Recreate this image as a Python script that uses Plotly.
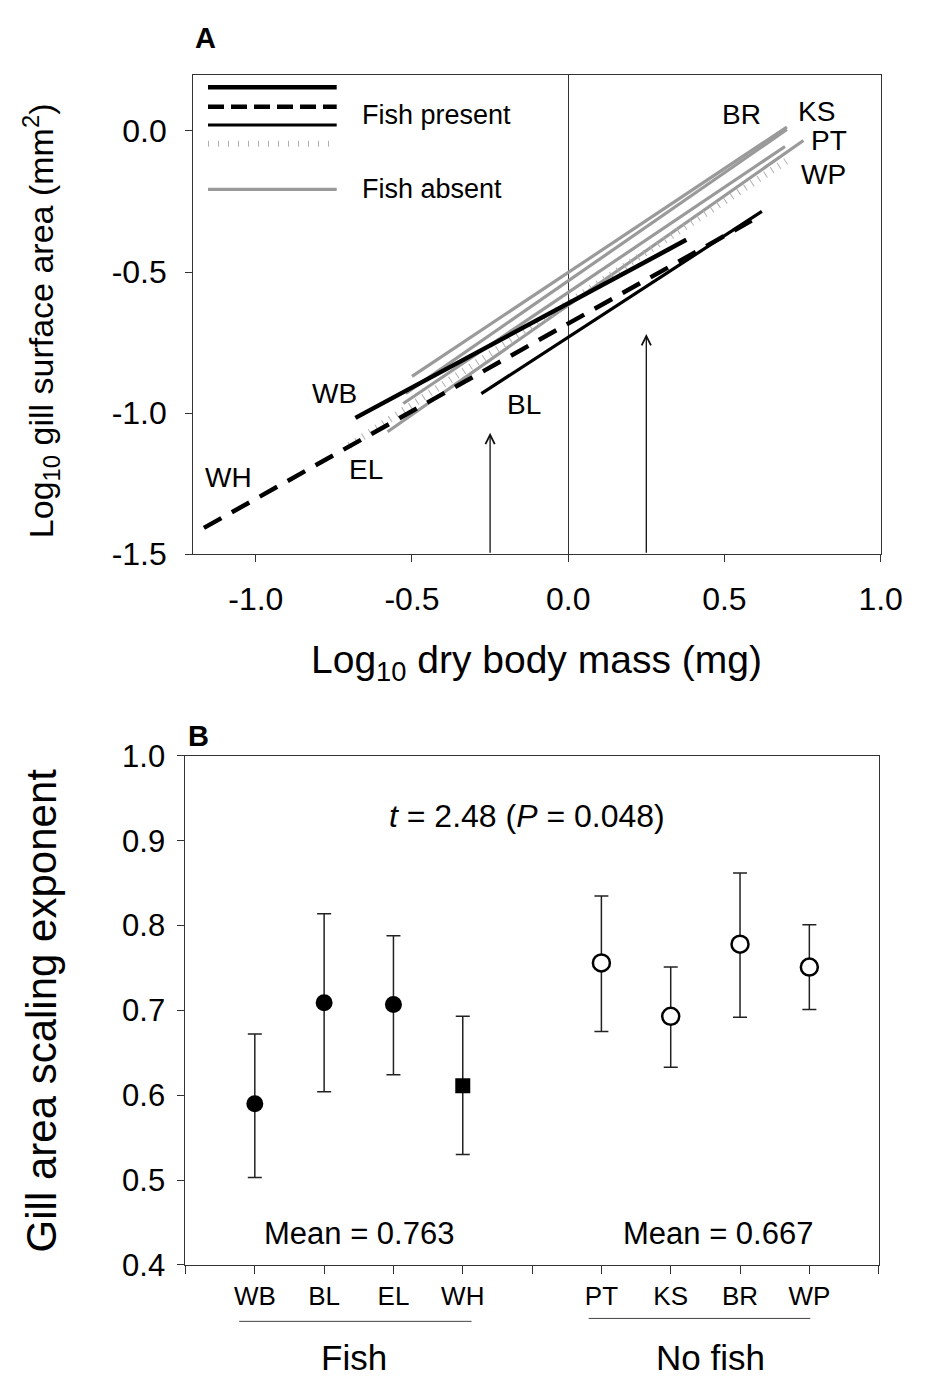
import plotly.graph_objects as go

# ---------------- Panel A data (regression lines) ----------------
pops_A = ["WB", "BL", "EL", "WH", "PT", "KS", "BR", "WP"]
x_start = [-0.681, -0.278, -0.700, -1.166, -0.578, -0.500, -0.520, -0.528]
x_end = [0.378, 0.620, 0.697, 0.600, 0.753, 0.700, 0.700, 0.694]
y_start = [-1.017, -0.931, -1.115, -1.407, -1.066, -0.870, -0.930, -0.966]
y_end = [-0.386, -0.285, -0.107, -0.310, -0.034, 0.014, 0.005, -0.055]

label_x_A = [-0.747, -0.140, -0.647, -1.087, 0.834, 0.794, 0.556, 0.816]
label_y_A = [-0.931, -0.969, -1.200, -1.228, -0.034, 0.069, 0.059, -0.155]

arrow_x = [-0.25, 0.25]
arrow_top = [-1.07, -0.72]

xticks_A = [-1.0, -0.5, 0.0, 0.5, 1.0]
yticks_A = [-1.5, -1.0, -0.5, 0.0]

# ---------------- Panel B data ----------------
cats_fish = ["WB", "BL", "EL", "WH"]
cats_nofish = ["PT", "KS", "BR", "WP"]
pos_fish = [1, 2, 3, 4]
pos_nofish = [6, 7, 8, 9]
est_fish = [0.590, 0.709, 0.707, 0.611]
hi_fish = [0.672, 0.814, 0.788, 0.693]
lo_fish = [0.503, 0.604, 0.624, 0.530]
est_nofish = [0.756, 0.693, 0.778, 0.751]
hi_nofish = [0.835, 0.751, 0.862, 0.801]
lo_nofish = [0.675, 0.633, 0.692, 0.701]
yticks_B = [0.4, 0.5, 0.6, 0.7, 0.8, 0.9, 1.0]
mean_fish_text = "Mean = 0.763"
mean_nofish_text = "Mean = 0.667"

FONT = "Liberation Sans, Arial, sans-serif"
GRAY = "#9a9a9a"

style = {
    "WB": dict(color="black", width=4.5, dash="solid"),
    "BL": dict(color="black", width=3.2, dash="solid"),
    "EL": dict(color="#b0b0b0", width=7, dash="1px,7px"),
    "WH": dict(color="black", width=4.5, dash="20px,12px"),
    "PT": dict(color=GRAY, width=3.2, dash="solid"),
    "KS": dict(color=GRAY, width=3.2, dash="solid"),
    "BR": dict(color=GRAY, width=3.2, dash="solid"),
    "WP": dict(color=GRAY, width=3.2, dash="solid"),
}

fig = go.Figure()

order = [4, 5, 6, 7, 2, 3, 1, 0]
for i in order:
    p = pops_A[i]
    fig.add_trace(go.Scatter(
        x=[x_start[i], x_end[i]], y=[y_start[i], y_end[i]],
        mode="lines", line=style[p], showlegend=False, hoverinfo="skip",
        xaxis="x", yaxis="y"))

for i, p in enumerate(pops_A):
    fig.add_annotation(x=label_x_A[i], y=label_y_A[i], xref="x", yref="y",
                       text=p, showarrow=False, xanchor="center", yanchor="middle",
                       font=dict(family=FONT, size=28, color="black"))

for ax_, top in zip(arrow_x, arrow_top):
    fig.add_annotation(x=ax_, y=top, ax=ax_, ay=-1.5, xref="x", yref="y",
                       axref="x", ayref="y", text="", showarrow=True,
                       arrowhead=5, arrowsize=1.4, arrowwidth=1.3, arrowcolor="#111")

# legend of panel A (shapes)
leg_x0, leg_x1 = -1.153, -0.741
leg_items = [
    (0.155, dict(color="black", width=4.5, dash="solid")),
    (0.086, dict(color="black", width=4.5, dash="16px,7px")),
    (0.021, dict(color="black", width=3.2, dash="solid")),
    (-0.045, dict(color="#b0b0b0", width=6, dash="1px,9px")),
    (-0.207, dict(color=GRAY, width=3.2, dash="solid")),
]
for yv, ln in leg_items:
    fig.add_shape(type="line", xref="x", yref="y", x0=leg_x0, x1=leg_x1,
                  y0=yv, y1=yv, line=ln)
fig.add_annotation(x=-0.666, y=0.055, xref="x", yref="y", text="Fish present",
                   showarrow=False, xanchor="left", yanchor="middle",
                   font=dict(family=FONT, size=27, color="black"))
fig.add_annotation(x=-0.666, y=-0.207, xref="x", yref="y", text="Fish absent",
                   showarrow=False, xanchor="left", yanchor="middle",
                   font=dict(family=FONT, size=27, color="black"))

# ---------------- Panel B traces ----------------
def err(a, b):
    return [u - v for u, v in zip(a, b)]

EB = dict(color="#222", thickness=1.5, width=7)
fig.add_trace(go.Scatter(
    x=pos_fish[:3], y=est_fish[:3], mode="markers",
    marker=dict(symbol="circle", size=17, color="black"),
    error_y=dict(type="data", symmetric=False, array=err(hi_fish[:3], est_fish[:3]),
                 arrayminus=err(est_fish[:3], lo_fish[:3]), **EB),
    showlegend=False, xaxis="x2", yaxis="y2"))
fig.add_trace(go.Scatter(
    x=pos_fish[3:], y=est_fish[3:], mode="markers",
    marker=dict(symbol="square", size=15, color="black"),
    error_y=dict(type="data", symmetric=False, array=err(hi_fish[3:], est_fish[3:]),
                 arrayminus=err(est_fish[3:], lo_fish[3:]), **EB),
    showlegend=False, xaxis="x2", yaxis="y2"))
fig.add_trace(go.Scatter(
    x=pos_nofish, y=est_nofish, mode="markers",
    marker=dict(symbol="circle", size=17, color="white",
                line=dict(color="black", width=2.5)),
    error_y=dict(type="data", symmetric=False, array=err(hi_nofish, est_nofish),
                 arrayminus=err(est_nofish, lo_nofish), **EB),
    showlegend=False, xaxis="x2", yaxis="y2"))

tickvals_B = [0] + pos_fish + [5] + pos_nofish + [10]
ticktext_B = [""] + cats_fish + [""] + cats_nofish + [""]

fig.add_annotation(x=4.93, y=0.929, xref="x2", yref="y2",
                   text="<i>t</i> = 2.48 (<i>P</i> = 0.048)", showarrow=False,
                   xanchor="center", yanchor="middle",
                   font=dict(family=FONT, size=32, color="black"))
fig.add_annotation(x=2.5, y=0.437, xref="x2", yref="y2", text=mean_fish_text,
                   showarrow=False, xanchor="center", yanchor="middle",
                   font=dict(family=FONT, size=31, color="black"))
fig.add_annotation(x=7.68, y=0.437, xref="x2", yref="y2", text=mean_nofish_text,
                   showarrow=False, xanchor="center", yanchor="middle",
                   font=dict(family=FONT, size=31, color="black"))

W, H = 928, 1392
def px(x):
    return x / W
def py(y):
    return 1 - y / H

def paper_text(x, y, text, size, angle=0):
    fig.add_annotation(x=px(x), y=py(y), xref="paper", yref="paper", text=text,
                       showarrow=False, xanchor="center", yanchor="middle",
                       textangle=angle, font=dict(family=FONT, size=size, color="black"))

fig.add_shape(type="line", xref="paper", yref="paper", x0=px(245), x1=px(483),
              y0=py(1338), y1=py(1338), line=dict(color="#444", width=1))
fig.add_shape(type="line", xref="paper", yref="paper", x0=px(603), x1=px(830),
              y0=py(1335), y1=py(1335), line=dict(color="#444", width=1))
paper_text(363, 1375, "Fish", 35)
paper_text(728, 1375, "No fish", 35)

paper_text(210, 22, "<b>A</b>", 29)
paper_text(203, 738, "<b>B</b>", 29)

paper_text(42, 312, "Log<sub>10</sub> gill surface area (mm<sup>2</sup>)", 34, -90)
paper_text(550, 662, "Log<sub>10</sub> dry body mass (mg)", 39)
paper_text(42, 1019, "Gill area scaling exponent", 42, -90)

axis_common = dict(showgrid=False, showline=True, linecolor="#333", linewidth=1.2,
                   mirror=True, ticks="outside", tickcolor="#333", tickwidth=1.2)

fig.update_layout(
    width=W, height=H, margin=dict(l=0, r=0, t=0, b=0),
    paper_bgcolor="white", plot_bgcolor="white", showlegend=False,
    xaxis=dict(domain=[px(198), px(902)], range=[-1.2, 1.0],
               tickvals=xticks_A, ticktext=[f"{v:.1f}" for v in xticks_A],
               ticklen=7, ticklabelstandoff=9, zeroline=True,
               zerolinecolor="#333", zerolinewidth=1.2, anchor="y",
               tickfont=dict(family=FONT, size=32, color="black"), **axis_common),
    yaxis=dict(domain=[py(551), py(59)], range=[-1.5, 0.2],
               tickvals=yticks_A, ticktext=[f"{v:.1f}" for v in yticks_A],
               ticklen=7, ticklabelstandoff=12, zeroline=False, anchor="x",
               tickfont=dict(family=FONT, size=32, color="black"), **axis_common),
    xaxis2=dict(domain=[px(190), px(900)], range=[0, 10],
                tickvals=tickvals_B, ticktext=ticktext_B, ticklen=8,
                ticklabelstandoff=0, zeroline=False, anchor="y2",
                tickfont=dict(family=FONT, size=26, color="black"), **axis_common),
    yaxis2=dict(domain=[py(1280), py(758)], range=[0.4, 1.0],
                tickvals=yticks_B, ticktext=[f"{v:.1f}" for v in yticks_B],
                ticklen=7, ticklabelstandoff=6, zeroline=False, anchor="x2",
                tickfont=dict(family=FONT, size=31, color="black"), **axis_common),
)

fig.write_html(
    "out.html",
    config={"displayModeBar": False},
    post_script=("document.documentElement.style.margin='0';"
                 "document.body.style.margin='0';"
                 "document.documentElement.style.overflow='hidden';"
                 "document.body.style.overflow='hidden';"),
)
